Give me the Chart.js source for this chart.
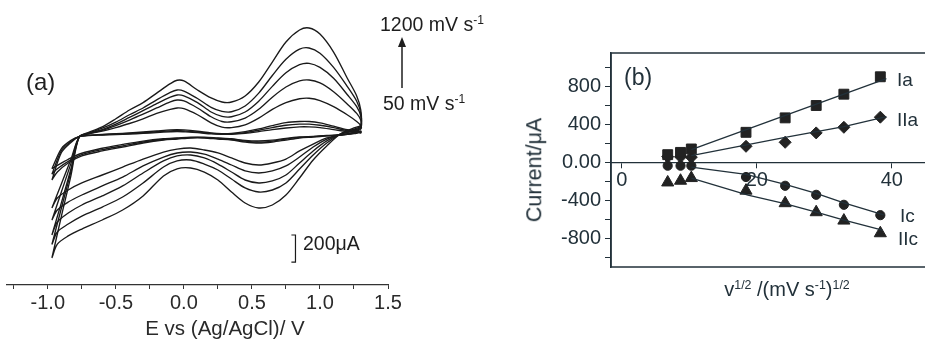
<!DOCTYPE html>
<html><head><meta charset="utf-8">
<script src="https://cdn.jsdelivr.net/npm/chart.js@4.4.1/dist/chart.umd.min.js"></script>
<style>
html,body{margin:0;padding:0;background:#fff;overflow:hidden;width:925px;height:339px;}
#wrap{position:relative;width:925px;height:339px;overflow:hidden;font-family:"Liberation Sans",Arial,sans-serif;}
.box{position:absolute;top:0;height:339px;}
#boxA{left:0;width:470px;}
#boxB{left:470px;width:500px;}
.t{position:absolute;white-space:nowrap;line-height:1;color:#1e1e1e;}
.tb{color:#22313a;}
.t sup{font-size:0.62em;position:relative;top:-0.55em;vertical-align:baseline;line-height:0;}
svg{position:absolute;left:0;top:0;pointer-events:none;}
</style></head><body>
<div id="wrap">
 <div class="box" id="boxA"><canvas id="cvA" width="470" height="339"></canvas></div>
 <div class="box" id="boxB"><canvas id="cvB" width="500" height="339"></canvas></div>
 <div class="t" style="left:26px;top:70px;font-size:24px;">(a)</div>
 <div class="t" style="left:380px;top:15px;font-size:19.5px;">1200 mV s<sup>-1</sup></div>
 <div class="t" style="left:383px;top:94px;font-size:19.5px;">50 mV s<sup>-1</sup></div>
 <div class="t" style="left:303px;top:234px;font-size:19.5px;">200μA</div>
 <div class="t" style="left:225px;top:318px;font-size:20.5px;transform:translateX(-50%);color:#2a2a2a;">E vs (Ag/AgCl)/ V</div>
 <div class="t tb" style="left:624px;top:66px;font-size:23px;">(b)</div>
 <div class="t tb" style="left:897px;top:70px;font-size:19px;">Ia</div>
 <div class="t tb" style="left:897px;top:110px;font-size:19px;">IIa</div>
 <div class="t tb" style="left:900px;top:206px;font-size:19px;">Ic</div>
 <div class="t tb" style="left:898px;top:229px;font-size:19px;">IIc</div>
 <div class="t tb" style="left:535px;top:170px;font-size:21.5px;transform:translate(-50%,-50%) rotate(-90deg);">Current/μA</div>
 <div class="t tb" style="left:787px;top:279px;font-size:20px;transform:translateX(-50%);">v<sup>1/2</sup> /(mV s<sup>-1</sup>)<sup>1/2</sup></div>
 <svg width="925" height="339"><line x1="402" y1="88" x2="402" y2="46" stroke="#1e1e1e" stroke-width="1.5"/><polygon points="398,47 406,47 402,37" fill="#1e1e1e"/></svg>
</div>
<script>
// ---------- Panel (a): cyclic voltammograms ----------
const potentialForward = [-0.97,-0.90,-0.83,-0.77,-0.70,-0.60,-0.50,-0.40,-0.30,-0.20,-0.10,-0.05,0.00,0.10,0.20,0.28,0.35,0.45,0.55,0.65,0.75,0.85,0.92,1.00,1.10,1.20,1.27,1.30];
const potentialReverse = [1.30,1.25,1.15,1.05,0.95,0.85,0.75,0.65,0.55,0.45,0.35,0.25,0.15,0.05,-0.05,-0.15,-0.30,-0.45,-0.60,-0.75,-0.85,-0.93,-0.97];

const cv50Forward  = [-250,-100,-40,-12,-4,0,4,7,12,18,24,26,24,18,8,5,5,12,25,40,52,60,60,55,40,25,20,15];
const cv50Reverse  = [20,10,0,-4,-10,-15,-25,-38,-44,-40,-28,-22,-16,-16,-22,-28,-45,-70,-98,-135,-180,-225,-250];
const cv75Forward  = [-290,-115,-48,-12,-3,2,7,11,17,24,31,33,31,22,12,7,8,18,35,55,72,80,80,72,55,32,25,18];
const cv75Reverse  = [25,12,0,-5,-12,-18,-30,-45,-52,-45,-32,-26,-19,-19,-26,-33,-52,-80,-108,-145,-195,-250,-290];
const cv100Forward = [-333,-130,-55,-12,-2,4,10,15,22,30,38,40,38,28,15,10,12,25,45,70,92,100,100,90,65,40,30,20];
const cv100Reverse = [30,15,0,-7,-15,-22,-37,-52,-59,-52,-37,-30,-22,-22,-30,-37,-59,-89,-118,-155,-207,-274,-333];
const cv300Forward = [-540,-360,-180,-15,8,28,55,85,120,160,190,200,195,150,90,58,55,75,125,190,240,268,272,255,210,150,100,70];
const cv300Reverse = [44,22,0,-22,-67,-118,-178,-207,-222,-207,-170,-133,-111,-96,-104,-126,-178,-237,-296,-355,-407,-466,-540];
const cv500Forward = [-630,-420,-210,-15,10,35,70,110,155,200,245,259,252,200,135,100,98,125,190,280,355,400,407,385,320,230,160,110];
const cv500Reverse = [52,30,7,-30,-89,-163,-229,-266,-281,-266,-222,-178,-141,-126,-133,-163,-229,-311,-377,-444,-496,-555,-630];
const cv750Forward = [-740,-500,-250,-15,12,40,80,130,180,232,280,296,290,240,170,138,135,170,250,360,460,520,530,500,420,300,210,140];
const cv750Reverse = [59,37,7,-44,-118,-207,-296,-340,-355,-333,-274,-215,-170,-148,-155,-192,-281,-377,-451,-518,-577,-644,-740];
const cv1000Forward = [-810,-540,-270,-15,15,50,95,150,200,260,315,333,325,270,205,175,172,215,310,440,560,635,644,605,500,360,250,160];
const cv1000Reverse = [67,44,7,-59,-148,-252,-355,-407,-422,-392,-326,-259,-215,-185,-192,-237,-355,-459,-533,-600,-659,-718,-810];
const cv1200Forward = [-910,-600,-300,-15,20,60,120,185,240,310,380,405,400,333,274,244,244,289,392,540,688,777,792,747,614,422,289,185];
const cv1200Reverse = [74,52,7,-81,-185,-318,-444,-518,-540,-503,-422,-333,-274,-244,-250,-303,-451,-555,-629,-696,-747,-807,-910];

const scaleBarX = [0.79, 0.82];
const scaleBarY = [-740, -940];   // 200 µA

const tickValuesA = [-1.25,-1.0,-0.75,-0.5,-0.25,0,0.25,0.5,0.75,1.0,1.25,1.5];
const tickLabelsA = ['','-1.0','','-0.5','','0.0','','0.5','','1.0','','1.5'];

// ---------- Panel (b): peak currents vs v^1/2 ----------
const sqrtRate = [6.8, 8.7, 10.3, 18.4, 24.2, 28.8, 32.9, 38.3];
const peakIa  = [81, 105, 141, 316, 468, 598, 717, 900];
const peakIIa = [60, 58, 55, 169, 211, 310, 369, 475];
const peakIc  = [-35, -35, -35, -154, -246, -341, -446, -555];
const peakIIc = [-211, -193, -165, -297, -429, -524, -612, -745];

const fitIaX  = [10.3, 39.2];       const fitIaY  = [135, 880];
const fitIIaX = [10.3, 24.2, 32.9, 39.2]; const fitIIaY = [70, 262, 375, 482];
const fitIcX  = [10.3, 18.4, 24.2, 28.8, 32.9, 38.8]; const fitIcY = [-50, -125, -232, -325, -425, -552];
const fitIIcX = [10.3, 18.7, 24.3, 28.8, 32.8, 38.6]; const fitIIcY = [-165, -345, -436, -524, -604, -712];

const tickValuesBX = [0, 20, 40];
const tickLabelsBX = ['0', '20', '40'];
const tickValuesBY = [-1000,-800,-600,-400,-200,0,200,400,600,800,1000];
const tickLabelsBY = ['','-800','','-400','','0.00','','400','','800',''];

const FONT = '"Liberation Sans", Arial, sans-serif';
const INK = '#1a1a1a';
const SLATE = '#22313a';

const pts = (xs, ys) => xs.map((x, i) => ({x, y: ys[i]}));

const cvSeries = [
  [cv50Forward, cv50Reverse], [cv75Forward, cv75Reverse], [cv100Forward, cv100Reverse],
  [cv300Forward, cv300Reverse], [cv500Forward, cv500Reverse], [cv750Forward, cv750Reverse],
  [cv1000Forward, cv1000Reverse], [cv1200Forward, cv1200Reverse]
];

const dsA = cvSeries.map(([f, r]) => ({
  data: pts(potentialForward, f).concat(pts(potentialReverse, r)),
  showLine: true, pointRadius: 0, borderColor: INK, borderWidth: 1.35, tension: 0.3, fill: false
}));
dsA.push({
  data: [{x: scaleBarX[0], y: scaleBarY[0]}, {x: scaleBarX[1], y: scaleBarY[0]},
         {x: scaleBarX[1], y: scaleBarY[1]}, {x: scaleBarX[0], y: scaleBarY[1]}],
  showLine: true, pointRadius: 0, borderColor: INK, borderWidth: 1.2, tension: 0
});

new Chart(document.getElementById('cvA'), {
  type: 'scatter',
  data: {datasets: dsA},
  options: {
    responsive: false, animation: false, devicePixelRatio: 1,
    layout: {padding: {left: 7, right: 82, top: 10, bottom: 0}},
    plugins: {legend: {display: false}, tooltip: {enabled: false}},
    scales: {
      x: {
        type: 'linear', min: -1.3, max: 1.5, position: 'bottom',
        afterFit(s) { s.height = 54; },
        afterBuildTicks(s) { s.ticks = tickValuesA.map(v => ({value: v})); },
        ticks: {callback: (v, i) => tickLabelsA[i], font: {family: FONT, size: 20}, color: '#2a2a2a', padding: 2, maxRotation: 0, autoSkip: false},
        grid: {display: true, drawOnChartArea: false, drawTicks: true, tickLength: 4, color: '#333', lineWidth: 1},
        border: {display: true, color: '#333', width: 1.2}
      },
      y: {type: 'linear', display: false, min: -1110, max: 925}
    }
  }
});

const framePlugin = {
  id: 'frame',
  afterDraw(chart) {
    const {ctx, chartArea: a} = chart;
    ctx.save();
    ctx.strokeStyle = SLATE; ctx.lineWidth = 1.5;
    ctx.strokeRect(a.left, a.top, a.right - a.left, a.bottom - a.top);
    ctx.restore();
  }
};

const marker = (ys, style, r) => ({
  data: pts(sqrtRate, ys), showLine: false, pointStyle: style, pointRadius: r,
  backgroundColor: '#222', borderColor: '#222', borderWidth: 1
});
const fitLine = (xs, ys) => ({
  data: pts(xs, ys), showLine: true, pointRadius: 0, borderColor: SLATE, borderWidth: 1.3, tension: 0
});

new Chart(document.getElementById('cvB'), {
  type: 'scatter',
  data: {datasets: [
    fitLine(fitIaX, fitIaY), fitLine(fitIIaX, fitIIaY), fitLine(fitIcX, fitIcY), fitLine(fitIIcX, fitIIcY),
    marker(peakIa, 'rect', 7), marker(peakIIa, 'rectRot', 6), marker(peakIc, 'circle', 4.6), marker(peakIIc, 'triangle', 7)
  ]},
  options: {
    responsive: false, animation: false, devicePixelRatio: 1,
    layout: {padding: {left: 0, right: 0, top: 53, bottom: 72}},
    plugins: {legend: {display: false}, tooltip: {enabled: false}},
    scales: {
      x: {
        type: 'linear', min: -1.6, max: 50.4, position: {y: 0},
        afterBuildTicks(s) { s.ticks = tickValuesBX.map(v => ({value: v})); },
        ticks: {callback: (v, i) => tickLabelsBX[i], font: {family: FONT, size: 20}, color: SLATE, padding: 1, maxRotation: 0, autoSkip: false},
        grid: {display: true, drawOnChartArea: false, drawTicks: true, tickLength: 5, color: SLATE},
        border: {display: true, color: SLATE, width: 1.3}
      },
      y: {
        type: 'linear', min: -1100, max: 1150, position: 'left',
        afterFit(s) { s.width = 141; },
        afterBuildTicks(s) { s.ticks = tickValuesBY.map(v => ({value: v})); },
        ticks: {callback: (v, i) => tickLabelsBY[i], font: {family: FONT, size: 20}, color: SLATE, padding: 4, autoSkip: false},
        grid: {display: true, drawOnChartArea: false, drawTicks: true, tickLength: 6, color: SLATE},
        border: {display: true, color: SLATE, width: 1.5}
      }
    }
  },
  plugins: [framePlugin]
});
</script>
</body></html>
